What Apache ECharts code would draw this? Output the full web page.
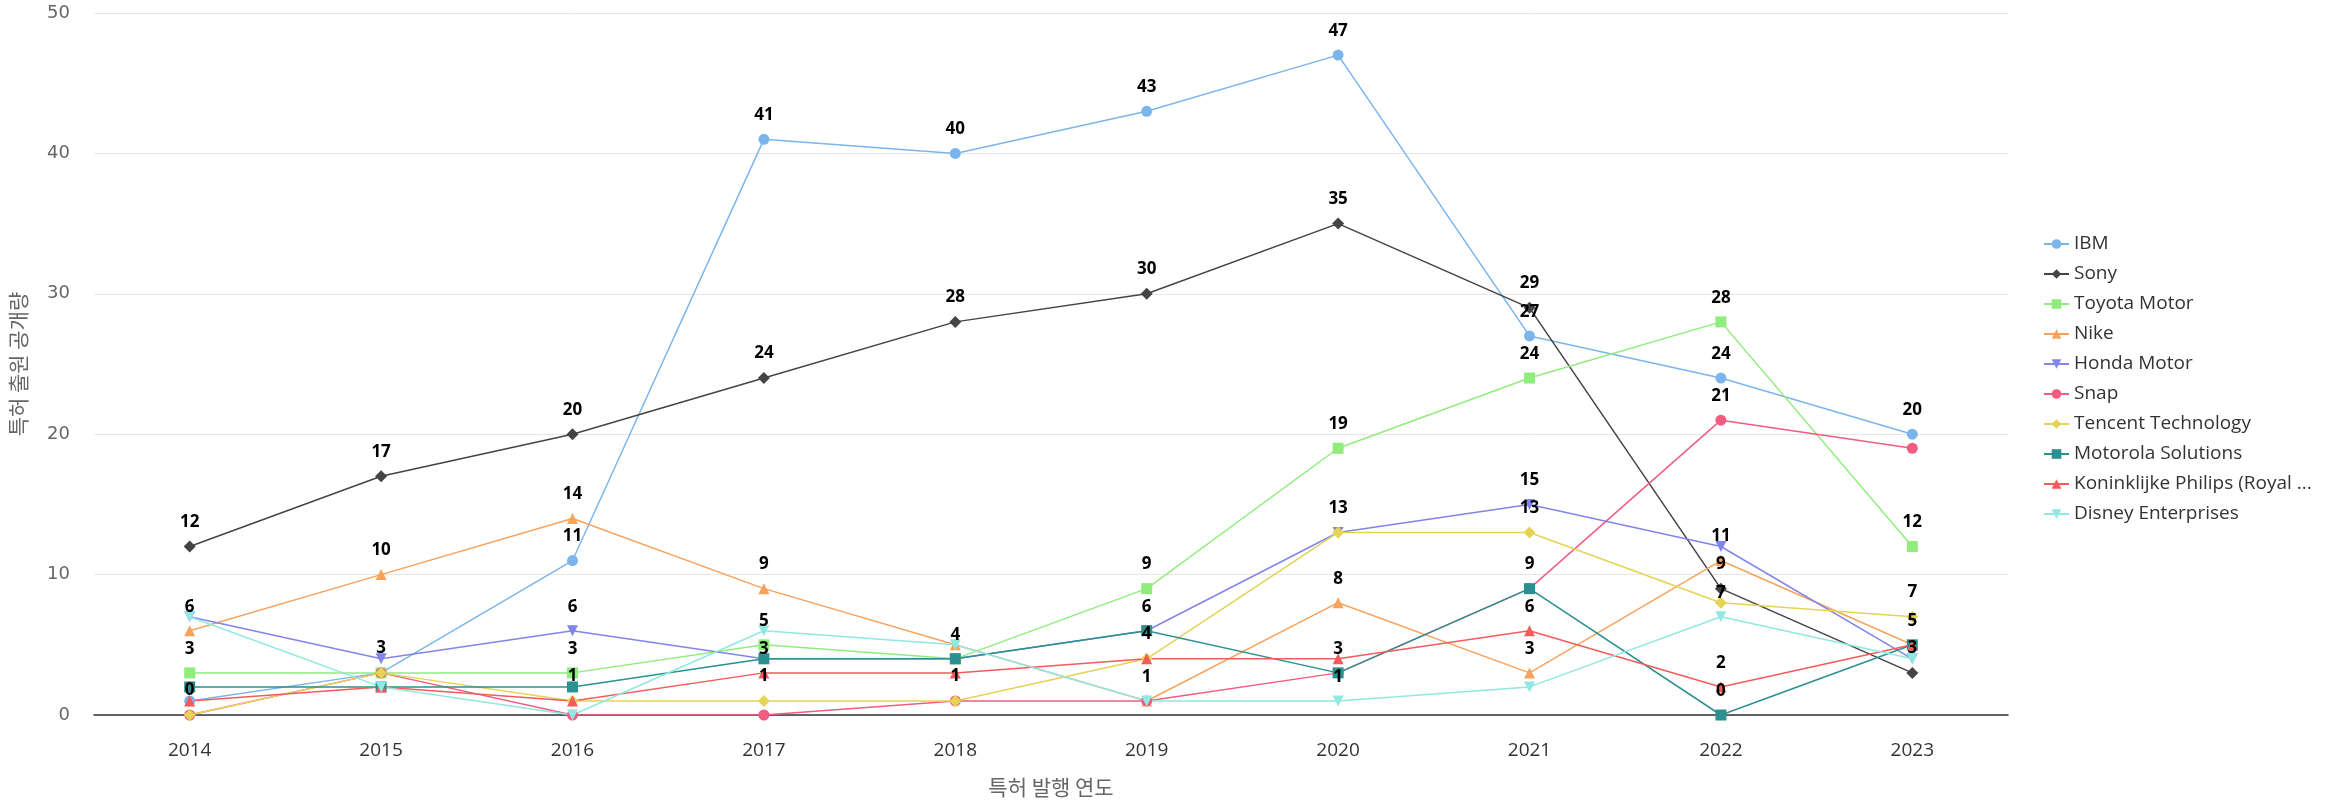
<!DOCTYPE html>
<html>
<head>
<meta charset="utf-8">
<script src="https://cdn.jsdelivr.net/npm/echarts@6/dist/echarts.min.js"></script>
<style>
html,body{margin:0;padding:0;background:#fff;}
#chart{width:2329px;height:803px;}
</style>
</head>
<body>
<div id="chart"></div>
<script>
const years = ['2014','2015','2016','2017','2018','2019','2020','2021','2022','2023'];
const seriesNames = ['IBM','Sony','Toyota Motor','Nike','Honda Motor','Snap','Tencent Technology','Motorola Solutions','Koninklijke Philips (Royal Philips)','Disney Enterprises'];
const ibm      = [1, 3, 11, 41, 40, 43, 47, 27, 24, 20];
const sony     = [12, 17, 20, 24, 28, 30, 35, 29, 9, 3];
const toyota   = [3, 3, 3, 5, 4, 9, 19, 24, 28, 12];
const nike     = [6, 10, 14, 9, 5, 1, 8, 3, 11, 5];
const honda    = [7, 4, 6, 4, 4, 6, 13, 15, 12, 4];
const snap     = [0, 3, 0, 0, 1, 1, 3, 9, 21, 19];
const tencent  = [0, 3, 1, 1, 1, 4, 13, 13, 8, 7];
const motorola = [2, 2, 2, 4, 4, 6, 3, 9, 0, 5];
const philips  = [1, 2, 1, 3, 3, 4, 4, 6, 2, 5];
const disney   = [7, 2, 0, 6, 5, 1, 1, 2, 7, 4];
const yTicks = [0, 10, 20, 30, 40, 50];

const allValues = [ibm, sony, toyota, nike, honda, snap, tencent, motorola, philips, disney];
const colors = ['#7cb5ec','#434348','#90ed7d','#f7a35c','#8085e9','#f15c80','#e4d354','#2b908f','#f45b5b','#91e8e1'];
const triDown = 'path://M0,0 L10,0 L5,9 Z';
const symbols = ['circle','diamond','rect','triangle',triDown,'circle','diamond','rect','triangle',triDown];
const symbolSizes = [11,12,11,11,11,11,12,11,11,11];

const chart = echarts.init(document.getElementById('chart'));
const series = seriesNames.map((name, i) => ({
  name: name,
  type: 'line',
  data: allValues[i],
  symbol: symbols[i],
  symbolSize: symbolSizes[i],
  showAllSymbol: true,
  lineStyle: {width: 1.5, color: colors[i]},
  itemStyle: {color: colors[i]},
  label: {
    show: true,
    position: 'top',
    distance: 10,
    color: '#000',
    fontSize: 17,
    fontWeight: 'bold',
    fontFamily: 'Open Sans'
  },
  labelLayout: {hideOverlap: true},
  emphasis: {disabled: true}
}));

chart.setOption({
  animation: false,
  color: colors,
  grid: {left: 90, right: 321, top: 13, bottom: 86, containLabel: false},
  legend: {
    orient: 'vertical',
    left: 2038,
    top: 229,
    itemWidth: 25,
    itemHeight: 12,
    itemGap: 10,
    textStyle: {fontSize: 19, color: '#333', fontFamily: 'Open Sans', lineHeight: 20},
    formatter: function (n) { return n.length > 26 ? n.slice(0, 26) + ' ...' : n; }
  },
  xAxis: {
    type: 'category',
    data: years,
    boundaryGap: true,
    name: '특허 발행 연도',
    nameLocation: 'middle',
    nameGap: 62,
    nameTextStyle: {fontSize: 21, color: '#666', fontFamily: 'Noto Sans CJK KR'},
    axisLine: {lineStyle: {color: '#333', width: 1.5}},
    axisTick: {show: false},
    axisLabel: {fontSize: 19, color: '#333', margin: 26, fontFamily: 'Open Sans'}
  },
  yAxis: {
    type: 'value',
    min: yTicks[0],
    max: yTicks[yTicks.length - 1],
    interval: 10,
    name: '특허 출원 공개량',
    nameLocation: 'middle',
    nameGap: 65,
    nameTextStyle: {fontSize: 21, color: '#666', fontFamily: 'Noto Sans CJK KR'},
    axisLine: {show: false},
    axisTick: {show: false},
    axisLabel: {fontSize: 18, color: '#666', margin: 24, fontFamily: 'DejaVu Sans'},
    splitLine: {lineStyle: {color: '#e6e6e6', width: 1}}
  },
  series: series
});
</script>
</body>
</html>
